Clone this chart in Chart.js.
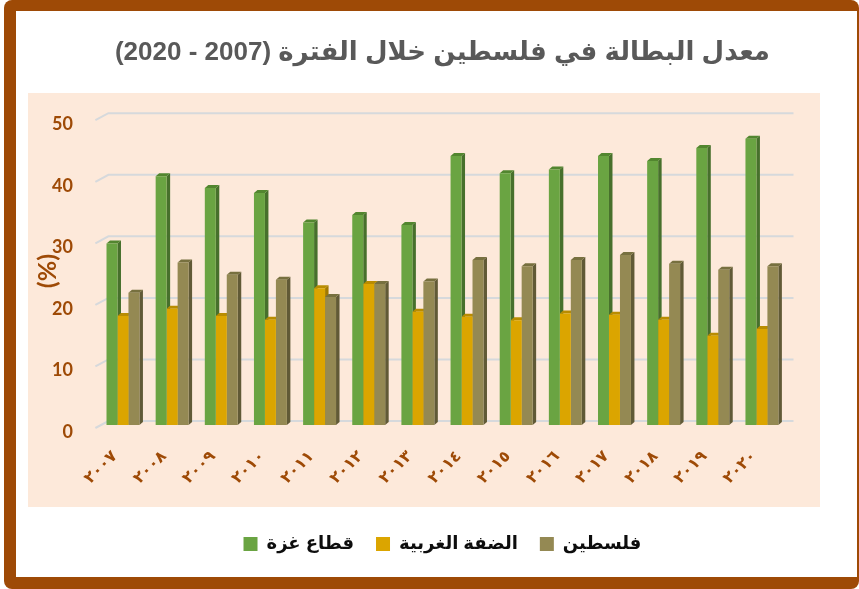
<!DOCTYPE html>
<html>
<head>
<meta charset="utf-8">
<script src="https://cdn.jsdelivr.net/npm/chart.js@4.4.1/dist/chart.umd.min.js"></script>
<style>
  html, body { margin: 0; padding: 0; background: #fff; }
</style>
</head>
<body>
<canvas id="chartUnemp" width="859" height="589"></canvas>
<script>
const years = ["٢٠٠٧", "٢٠٠٨", "٢٠٠٩", "٢٠١٠", "٢٠١١", "٢٠١٢", "٢٠١٣", "٢٠١٤", "٢٠١٥", "٢٠١٦", "٢٠١٧", "٢٠١٨", "٢٠١٩", "٢٠٢٠"];
const gaza = [29.5, 40.4, 38.5, 37.7, 32.9, 34.1, 32.5, 43.7, 40.9, 41.5, 43.7, 42.9, 45.0, 46.5];
const westBank = [17.7, 18.9, 17.7, 17.1, 22.2, 22.9, 18.4, 17.6, 17.0, 18.1, 17.9, 17.1, 14.5, 15.6];
const palestine = [21.5, 26.4, 24.4, 23.6, 20.8, 22.9, 23.3, 26.8, 25.8, 26.8, 27.6, 26.2, 25.2, 25.8];
const yTicks = [0, 10, 20, 30, 40, 50];

const brown = "#9E4A06";
// front, side, top colours for the fake 3d bars
const shades = [
  ["#6AA442", "#47702C", "#52862F"],
  ["#DBA500", "#A27A00", "#B98C00"],
  ["#948953", "#615A36", "#77703F"],
];

const framePlugin = {
  id: "frame",
  beforeDraw(chart) {
    const ctx = chart.ctx;
    ctx.save();
    ctx.fillStyle = "#fff";
    ctx.fillRect(0, 0, chart.width, chart.height);
    ctx.fillStyle = brown;
    ctx.beginPath();
    ctx.roundRect(4, 0, 855, 589, 8);
    ctx.fill();
    ctx.fillStyle = "#fff";
    ctx.fillRect(16, 11, 841, 566);
    ctx.fillStyle = "#FDE9DA";
    ctx.fillRect(28, 93, 792, 414);
    ctx.restore();
  },
  beforeDatasetsDraw(chart) {
    const ctx = chart.ctx;
    const area = chart.chartArea;
    const y = chart.scales.y;
    ctx.save();
    // back wall grid lines with the floor corner
    ctx.strokeStyle = "#D6D9DC";
    ctx.lineWidth = 2;
    yTicks.forEach((v) => {
      const py = y.getPixelForValue(v) - 4;
      ctx.beginPath();
      ctx.moveTo(area.left - 3, py + 7);
      ctx.lineTo(area.left + 10, py);
      ctx.lineTo(area.right + 7, py);
      ctx.stroke();
    });
    // side and top faces, fronts are drawn by chart.js afterwards
    const dx = 3.5, dy = 3;
    chart.data.datasets.forEach((ds, i) => {
      chart.getDatasetMeta(i).data.forEach((bar) => {
        const l = bar.x - bar.width / 2, r = bar.x + bar.width / 2;
        ctx.fillStyle = shades[i][1];
        ctx.beginPath();
        ctx.moveTo(r, bar.y);
        ctx.lineTo(r + dx, bar.y - dy);
        ctx.lineTo(r + dx, bar.base - dy);
        ctx.lineTo(r, bar.base);
        ctx.closePath();
        ctx.fill();
        ctx.fillStyle = shades[i][2];
        ctx.beginPath();
        ctx.moveTo(l, bar.y);
        ctx.lineTo(l + dx, bar.y - dy);
        ctx.lineTo(r + dx, bar.y - dy);
        ctx.lineTo(r, bar.y);
        ctx.closePath();
        ctx.fill();
      });
    });
    ctx.restore();
  },
};

new Chart(document.querySelector("#chartUnemp"), {
  type: "bar",
  data: {
    labels: years,
    datasets: [
      { label: "قطاع غزة", data: gaza, backgroundColor: shades[0][0] },
      { label: "الضفة الغربية", data: westBank, backgroundColor: shades[1][0] },
      { label: "فلسطين", data: palestine, backgroundColor: shades[2][0] },
    ],
  },
  options: {
    responsive: false,
    animation: false,
    devicePixelRatio: 1,
    datasets: {
      bar: { categoryPercentage: 0.67, barPercentage: 1.0, borderWidth: 0 },
    },
    layout: {
      padding: { left: 36, right: 72.5, top: 20, bottom: 26 },
    },
    scales: {
      x: {
        grid: { display: false },
        border: { display: false },
        ticks: {
          color: brown,
          font: { family: "'DejaVu Sans'", size: 16, weight: "bold" },
          minRotation: 45,
          maxRotation: 45,
          labelOffset: -8,
          padding: 14,
        },
        afterFit(scale) {
          scale.height = 88;
        },
      },
      y: {
        min: 0,
        max: 50,
        grid: { display: false },
        border: { display: false },
        ticks: {
          stepSize: 10,
          color: brown,
          font: { family: "Lato", size: 18, weight: "bold" },
          padding: 17.5,
          labelOffset: 7,
        },
        title: {
          display: true,
          text: "(%)",
          color: brown,
          font: { family: "Lato", size: 25, weight: "bold" },
          padding: { top: -3, bottom: 0 },
        },
        afterFit(scale) {
          scale.width = 62.4;
        },
      },
    },
    plugins: {
      title: {
        display: true,
        fullSize: false,
        text: "\u202Bمعدل البطالة في فلسطين خلال الفترة (2007 - 2020)\u202C",
        color: "#595959",
        font: { family: "'Liberation Sans', 'DejaVu Sans', sans-serif", size: 26, weight: "bold" },
        padding: { top: 17, bottom: 49 },
      },
      legend: {
        position: "bottom",
        fullSize: false,
        labels: {
          boxWidth: 14,
          boxHeight: 14,
          padding: 22,
          color: "#0D0D0D",
          font: { family: "'Liberation Sans', 'DejaVu Sans', sans-serif", size: 18, weight: "bold" },
        },
      },
      tooltip: { enabled: false },
    },
  },
  plugins: [framePlugin],
});
</script>
</body>
</html>
